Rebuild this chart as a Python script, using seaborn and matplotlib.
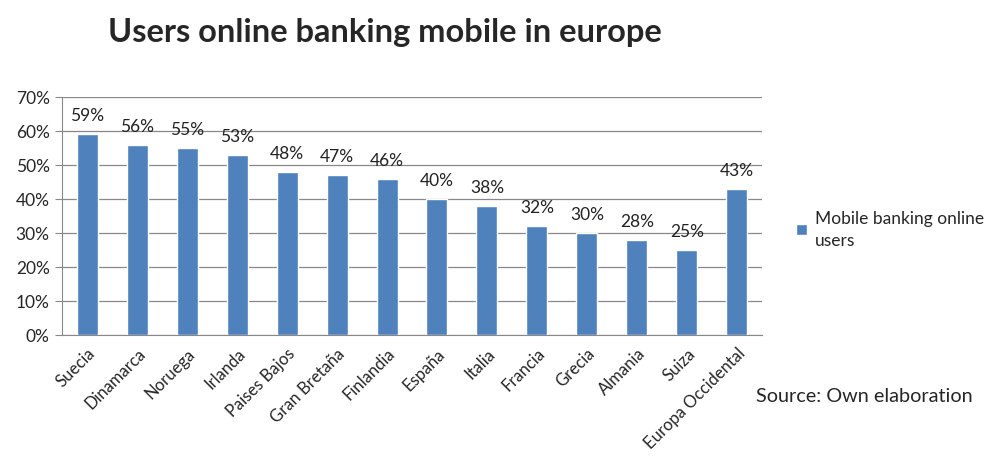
import matplotlib
matplotlib.use("Agg")
import matplotlib.pyplot as plt
import seaborn as sns
import pandas as pd
from matplotlib.patches import Patch
from matplotlib.ticker import PercentFormatter, MultipleLocator

# values
countries = ["Suecia", "Dinamarca", "Noruega", "Irlanda", "Paises Bajos", "Gran Bretaña",
             "Finlandia", "España", "Italia", "Francia", "Grecia", "Almania", "Suiza",
             "Europa Occidental"]
users_pct = [59, 56, 55, 53, 48, 47, 46, 40, 38, 32, 30, 28, 25, 43]

sns.set_style("white")
plt.rcParams['font.family'] = ['Lato', 'DejaVu Sans']

df = pd.DataFrame({"country": countries, "users": users_pct})
bar_color = "#4F81BD"

fig = plt.figure(figsize=(9.88, 4.64), dpi=100)
ax = fig.add_axes([0.063, 0.276, 0.708, 0.513])

sns.barplot(data=df, x="country", y="users", color=bar_color, width=0.42,
            saturation=1, ax=ax, zorder=3)

for i, v in enumerate(users_pct):
    ax.text(i, v + 3.2, f"{v}%", ha="center", va="bottom", fontsize=12.5, color="#222222")

ax.set_ylim(0, 70)
ax.set_xlim(-0.5, len(countries) - 0.5)
ax.yaxis.set_major_locator(MultipleLocator(10))
ax.yaxis.set_major_formatter(PercentFormatter(decimals=0))
ax.grid(axis="y", color="#888888", linewidth=0.9, zorder=0)
ax.set_axisbelow(True)

for side in ["top", "right"]:
    ax.spines[side].set_visible(False)
ax.spines["left"].set_color("#888888")
ax.spines["bottom"].set_color("#888888")

# excel style ticks on category boundaries
ax.set_xticks([i for i in range(len(countries))])
ax.set_xticklabels(countries, rotation=45, ha="right", rotation_mode="anchor", fontsize=12)
ax.tick_params(axis="x", length=0, pad=7)
ax.set_xticks([i - 0.5 for i in range(len(countries) + 1)], minor=True)
ax.tick_params(axis="x", which="minor", length=5, color="#888888", direction="out")
ax.tick_params(axis="y", length=5, color="#888888", labelsize=12.5, pad=4, left=True)
ax.set_xlabel("")
ax.set_ylabel("")

fig.text(0.39, 0.93, "Users online banking mobile in europe", ha="center", va="center",
         fontsize=23.5, fontweight="bold")

handle = [Patch(facecolor=bar_color, label="Mobile banking online\nusers")]
leg = fig.legend(handles=handle, loc="center left", bbox_to_anchor=(0.79, 0.505), frameon=False,
                 fontsize=12.5, handlelength=0.6, handleheight=0.6, handletextpad=0.5)
leg.get_texts()[0].set_linespacing(1.45)

fig.text(0.765, 0.145, "Source: Own elaboration", ha="left", va="center", fontsize=14.3)

fig.savefig("out.png", dpi=100)
